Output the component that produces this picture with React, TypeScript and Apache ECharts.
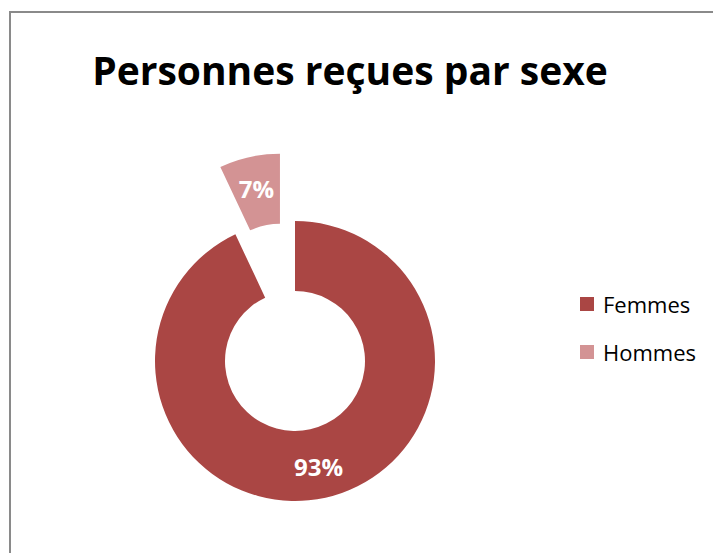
import React, { useEffect, useRef } from "react";
import * as echarts from "echarts";

const titleText = "Personnes reçues par sexe";
const categories = ["Femmes", "Hommes"];
const values = [93, 7];
const colors = ["#AA4644", "#D39394"];

export default function App() {
  const ref = useRef<HTMLDivElement>(null);
  useEffect(() => {
    if (!ref.current) return;
    const chart = echarts.init(ref.current, null, { renderer: "svg" });
    chart.setOption({
      animation: false,
      backgroundColor: "#ffffff",
      graphic: [
        {
          type: "rect",
          shape: { x: 10, y: 12, width: 800, height: 800 },
          style: { fill: "none", stroke: "#8a8a8a", lineWidth: 2 },
          silent: true,
        },
        {
          type: "text",
          x: 350,
          y: 69,
          style: {
            text: titleText,
            fontFamily: "Open Sans",
            fontWeight: "bold",
            fontSize: 39,
            fill: "#000000",
            textAlign: "center",
            textVerticalAlign: "middle",
          },
        },
      ],
      legend: {
        orient: "vertical",
        left: 580,
        top: 293,
        padding: 0,
        icon: "rect",
        itemWidth: 14,
        itemHeight: 14,
        itemGap: 26,
        selectedMode: false,
        data: categories,
        textStyle: {
          fontFamily: "Open Sans",
          fontSize: 22,
          color: "#000000",
          padding: [0, 0, 0, 4],
        },
      },
      series: [
        {
          type: "pie",
          center: [295, 361],
          radius: [70, 140],
          startAngle: 90,
          clockwise: true,
          selectedMode: "multiple",
          selectedOffset: 69,
          avoidLabelOverlap: false,
          emphasis: { disabled: true },
          label: {
            show: true,
            position: "inside",
            formatter: (p: any) => p.value + "%",
            color: "#ffffff",
            fontFamily: "Open Sans",
            fontWeight: "bold",
            fontSize: 24,
          },
          labelLine: { show: false },
          data: categories.map((c, i) => ({
            name: c,
            value: values[i],
            selected: i === 1,
            itemStyle: { color: colors[i] },
          })),
        },
      ],
    });
    return () => chart.dispose();
  }, []);
  return (
    <div
      ref={ref}
      style={{ position: "absolute", left: 0, top: 0, width: 713, height: 553 }}
    />
  );
}
